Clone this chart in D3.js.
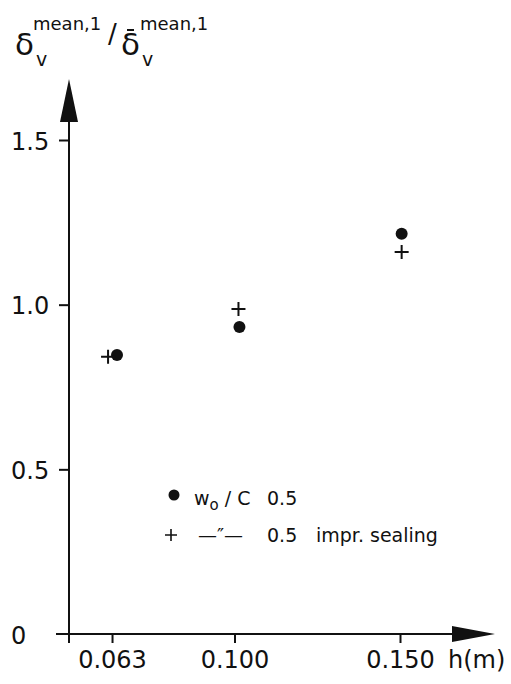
<!DOCTYPE html>
<html>
<head>
<meta charset="utf-8">
<script src="https://cdn.jsdelivr.net/npm/d3@7"></script>
<style>
  body { margin: 0; background: #fff; }
  svg { display: block; font-family: "DejaVu Sans", sans-serif; }
</style>
</head>
<body>
<svg id="chart" width="511" height="684"></svg>
<script>
// values
const xTicks = [0.063, 0.100, 0.150];
const xTickLabels = ["0.063", "0.100", "0.150"];
const yTicks = [0, 0.5, 1.0, 1.5];
const yTickLabels = ["0", "0.5", "1.0", "1.5"];

// w0/C 0.5 (filled dots)
const dotX = [0.0645, 0.1015, 0.1505];
const dotY = [0.847, 0.932, 1.215];
// -"- 0.5 impr. sealing (plus signs)
const plusX = [0.0618, 0.1012, 0.1505];
const plusY = [0.842, 0.987, 1.160];

const svg = d3.select("#chart");

// scales
const x = d3.scaleLinear().domain([0.05, 0.15]).range([69, 400]);
const y = d3.scaleLinear().domain([0, 1.5]).range([634, 140]);

const ink = "#111";

// axis lines
svg.append("line")
  .attr("x1", x(0.05)).attr("x2", x(0.05))
  .attr("y1", y(0) + 9).attr("y2", 118)
  .attr("stroke", ink).attr("stroke-width", 2);
svg.append("line")
  .attr("x1", 56).attr("x2", 455)
  .attr("y1", y(0)).attr("y2", y(0))
  .attr("stroke", ink).attr("stroke-width", 2);

// arrow heads
svg.append("path")
  .attr("d", `M${x(0.05)},79 L${x(0.05) - 9},122 L${x(0.05) + 9},122 Z`)
  .attr("fill", ink);
svg.append("path")
  .attr("d", `M495,${y(0)} L452,${y(0) - 8} L452,${y(0) + 8} Z`)
  .attr("fill", ink);

// y axis ticks
const gy = svg.append("g")
  .attr("transform", `translate(${x(0.05)},0)`)
  .call(d3.axisLeft(y).tickValues(yTicks).tickSize(10).tickSizeOuter(0)
    .tickFormat((d, i) => yTickLabels[i]));
gy.select(".domain").remove();
gy.selectAll(".tick line").attr("stroke", ink).attr("stroke-width", 2);
gy.selectAll(".tick text")
  .attr("x", 11 - x(0.05)).attr("dy", null).attr("y", 9)
  .attr("text-anchor", "start")
  .style("font-family", "DejaVu Sans").style("font-size", "24px").attr("fill", ink);
gy.selectAll(".tick").filter(d => d === 0).select("line").remove();

// x axis ticks
const gx = svg.append("g")
  .attr("transform", `translate(0,${y(0)})`)
  .call(d3.axisBottom(x).tickValues(xTicks).tickSize(9).tickSizeOuter(0)
    .tickFormat((d, i) => xTickLabels[i]));
gx.select(".domain").remove();
gx.selectAll(".tick line").attr("stroke", ink).attr("stroke-width", 2);
gx.selectAll(".tick text")
  .attr("y", 34).attr("dy", null)
  .style("font-family", "DejaVu Sans").style("font-size", "24px").attr("fill", ink);

svg.append("text")
  .attr("x", 448).attr("y", y(0) + 34)
  .style("font-size", "24px").attr("fill", ink)
  .text("h(m)");

// y axis title
const title = svg.append("g").attr("fill", ink);
title.append("text").attr("x", 15).attr("y", 55).style("font-size", "31px").text("δ");
title.append("text").attr("x", 36).attr("y", 66).style("font-size", "19px").text("v");
title.append("text").attr("x", 33).attr("y", 30).style("font-size", "18px").text("mean,1");
title.append("text").attr("x", 108).attr("y", 43).style("font-size", "26px").text("/");
title.append("text").attr("x", 121).attr("y", 55).style("font-size", "31px").text("δ");
title.append("line")
  .attr("x1", 127).attr("x2", 134).attr("y1", 30).attr("y2", 30)
  .attr("stroke", ink).attr("stroke-width", 2);
title.append("text").attr("x", 142).attr("y", 66).style("font-size", "19px").text("v");
title.append("text").attr("x", 140).attr("y", 30).style("font-size", "18px").text("mean,1");

// data marks
svg.append("g").selectAll("circle")
  .data(dotX.map((v, i) => [v, dotY[i]]))
  .join("circle")
  .attr("cx", d => x(d[0])).attr("cy", d => y(d[1]))
  .attr("r", 6).attr("fill", ink);

const plusSize = 7;
svg.append("g").selectAll("path")
  .data(plusX.map((v, i) => [v, plusY[i]]))
  .join("path")
  .attr("d", d => {
    const cx = x(d[0]), cy = y(d[1]);
    return `M${cx - plusSize},${cy} H${cx + plusSize} M${cx},${cy - plusSize} V${cy + plusSize}`;
  })
  .attr("stroke", ink).attr("stroke-width", 2).attr("fill", "none");

// legend
const leg = svg.append("g").attr("fill", ink).style("font-size", "19px");
leg.append("circle").attr("cx", 174).attr("cy", 495).attr("r", 5.5).attr("fill", ink);
const l1 = leg.append("text").attr("x", 194).attr("y", 505);
l1.append("tspan").text("w");
l1.append("tspan").attr("dy", 5).style("font-size", "15px").text("o");
l1.append("tspan").attr("dy", -5).text(" / C");
leg.append("text").attr("x", 267).attr("y", 505).text("0.5");

leg.append("path")
  .attr("d", "M165,535 H177 M171,529 V541")
  .attr("stroke", ink).attr("stroke-width", 1.6);
leg.append("text").attr("x", 198).attr("y", 542).text("—″—");
leg.append("text").attr("x", 267).attr("y", 542).text("0.5");
leg.append("text").attr("x", 316).attr("y", 542).text("impr. sealing");
</script>
</body>
</html>
